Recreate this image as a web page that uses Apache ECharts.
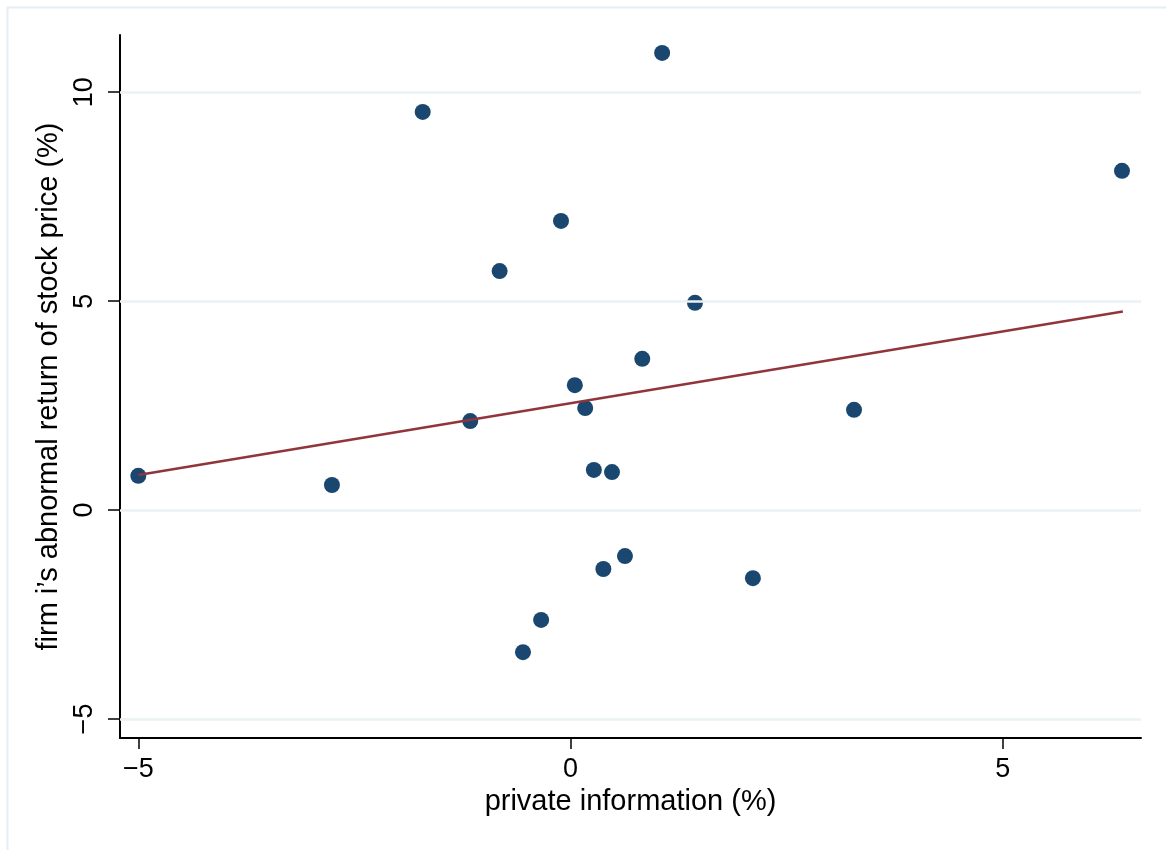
<!DOCTYPE html>
<html>
<head>
<meta charset="utf-8">
<script src="https://cdn.jsdelivr.net/npm/echarts@6/dist/echarts.min.js"></script>
<style>
html,body{margin:0;padding:0;background:#fff;}
#c{width:1166px;height:850px;}
</style>
</head>
<body>
<div id="c"></div>
<script>
var privateInfo = [-5.00, -2.76, -1.71, -1.16, -0.82, -0.55, -0.34, -0.11, 0.05, 0.17, 0.27, 0.38, 0.48, 0.63, 0.83, 1.06, 1.44, 2.11, 3.28, 6.38];
var abnormalReturn = [0.82, 0.60, 9.53, 2.13, 5.72, -3.40, -2.63, 6.92, 2.99, 2.44, 0.96, -1.41, 0.91, -1.10, 3.62, 10.94, 4.96, -1.63, 2.40, 8.12];
var fitX = [-5.00, 6.39];
var fitY = [0.84, 4.75];
var xTicks = [-5, 0, 5];
var yTicks = [-5, 0, 5, 10];
var xTitle = 'private information (%)';
var yTitle = 'firm i\u2019s abnormal return of stock price (%)';

var FONT = 'Liberation Sans';
function lbl(v){ return v < 0 ? '\u2212' + Math.abs(v) : String(v); }

var scatterData = privateInfo.map(function(x, i){ return [x, abnormalReturn[i]]; });
var fitData = fitX.map(function(x, i){ return [x, fitY[i]]; });

var chart = echarts.init(document.getElementById('c'), null, {renderer: 'canvas'});
chart.setOption({
  animation: false,
  backgroundColor: '#ffffff',
  graphic: [{
    type: 'rect', left: 5, top: 5, silent: true,
    shape: {x: 0, y: 0, width: 1200, height: 900},
    style: {fill: 'none', stroke: '#e6eef1', lineWidth: 2}
  }],
  grid: {left: 120, right: 25, top: 35, bottom: 112, containLabel: false},
  xAxis: {
    type: 'value', min: -5.212, max: 6.60,
    name: xTitle, nameLocation: 'middle', nameGap: 48,
    nameTextStyle: {fontFamily: FONT, fontSize: 29, color: '#000'},
    axisLine: {show: true, onZero: false, lineStyle: {color: '#000', width: 2}},
    axisTick: {show: true, length: 11, inside: false, customValues: xTicks, lineStyle: {color: '#000', width: 1.5}},
    axisLabel: {customValues: xTicks, formatter: lbl, fontFamily: FONT, fontSize: 27, color: '#000', margin: 18},
    splitLine: {show: false}
  },
  yAxis: {
    type: 'value', min: -5.455, max: 11.37,
    name: yTitle, nameLocation: 'middle', nameGap: 53,
    nameTextStyle: {fontFamily: FONT, fontSize: 29, color: '#000'},
    axisLine: {show: true, onZero: false, lineStyle: {color: '#000', width: 2}},
    axisTick: {show: true, length: 12, inside: false, customValues: yTicks, lineStyle: {color: '#000', width: 1.5}},
    axisLabel: {customValues: yTicks, formatter: lbl, rotate: 90, fontFamily: FONT, fontSize: 27, color: '#000', margin: 22},
    splitLine: {show: false}
  },
  series: [
    {
      type: 'line', data: [], silent: true,
      markLine: {
        silent: true, symbol: 'none', label: {show: false},
        lineStyle: {color: '#eaf2f3', width: 2.5, type: 'solid'},
        data: yTicks.map(function(v){ return {yAxis: v}; })
      }
    },
    {
      type: 'scatter', data: scatterData, symbol: 'circle', symbolSize: 16,
      itemStyle: {color: '#1a476f', opacity: 1}, z: 3
    },
    {
      type: 'line', data: fitData, showSymbol: false, symbol: 'none',
      lineStyle: {color: '#90353b', width: 2.5}, z: 4
    }
  ]
});
</script>
</body>
</html>
